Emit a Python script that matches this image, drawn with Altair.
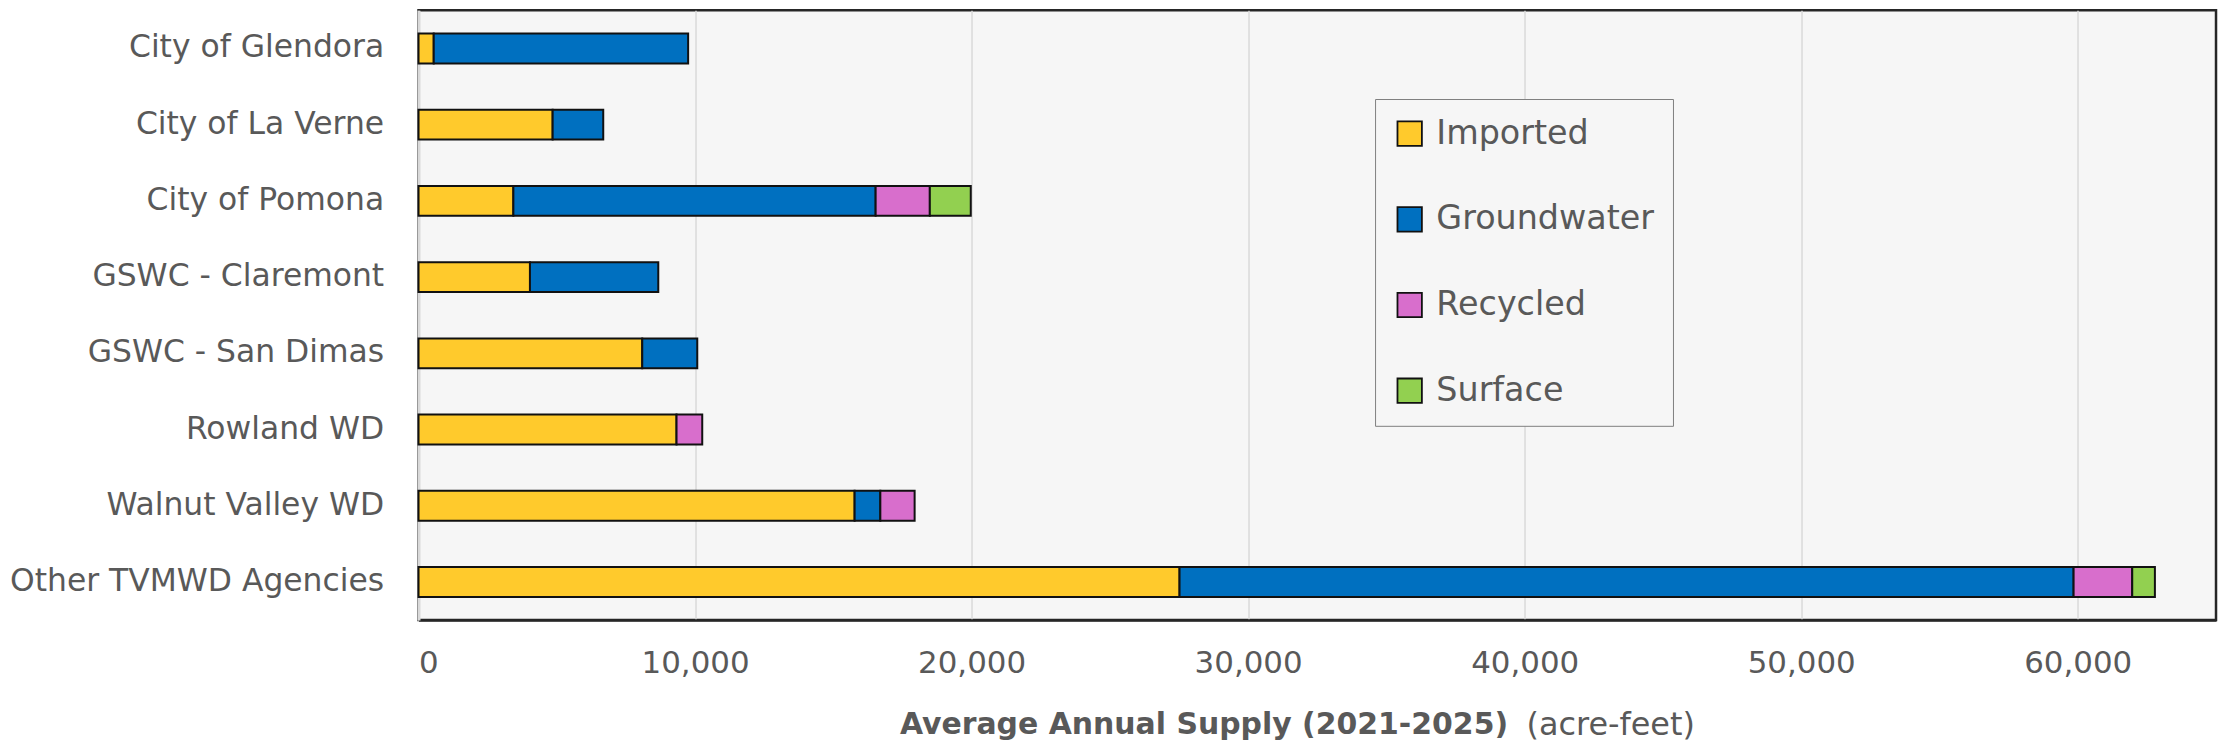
import altair as alt
import pandas as pd

agencies = ["City of Glendora", "City of La Verne", "City of Pomona", "GSWC - Claremont",
            "GSWC - San Dimas", "Rowland WD", "Walnut Valley WD", "Other TVMWD Agencies"]
sources = ["Imported", "Groundwater", "Recycled", "Surface"]
imported = [550, 4850, 3430, 4030, 8090, 9330, 15770, 27520]
groundwater = [9200, 1830, 13100, 4640, 1990, 0, 930, 32330]
recycled = [0, 0, 1960, 0, 0, 930, 1240, 2120]
surface = [0, 0, 1480, 0, 0, 0, 0, 820]
colors = ["#FFCA2C", "#0070C0", "#D86ECC", "#92D050"]
x_ticks = [0, 10000, 20000, 30000, 40000, 50000, 60000]

FONT = "DejaVu Sans"
TXT = "#595959"

rows = []
for i, src_vals in enumerate([imported, groundwater, recycled, surface]):
    for a, v in zip(agencies, src_vals):
        if v > 0:
            rows.append({"Agency": a, "Source": sources[i], "Value": v, "Idx": i})
df = pd.DataFrame(rows)

bars = alt.Chart(df).mark_bar(stroke="#111111", strokeWidth=2, size=30).encode(
    y=alt.Y("Agency:N", sort=agencies,
            axis=alt.Axis(title=None, labelFontSize=31.5, labelColor=TXT, labelFont=FONT,
                          labelPadding=35, ticks=False, tickSize=0, grid=False,
                          domainColor="#D9D9D9", domainWidth=3, labelLimit=600)),
    x=alt.X("Value:Q", stack="zero",
            scale=alt.Scale(domain=[0, 65000], nice=False),
            axis=alt.Axis(values=x_ticks, format=",d", labelFontSize=31, labelColor=TXT,
                          labelFont=FONT, labelPadding=29, ticks=False, tickSize=0,
                          domainColor="#262626", domainWidth=2.5,
                          gridColor="#D9D9D9", gridWidth=1.5,
                          title="Average Annual Supply (2021-2025)",
                          titleFontSize=30, titleFontWeight="bold", titleColor=TXT,
                          titleFont=FONT, titleAlign="right", titleAnchor="start",
                          titleBaseline="middle", titleX=1093, titleY=105)),
    color=alt.Color("Source:N", sort=sources,
                    scale=alt.Scale(domain=sources, range=colors),
                    legend=alt.Legend(title=None, orient="none", legendX=960, legendY=89,
                                      direction="vertical", fillColor="#F6F6F6",
                                      strokeColor="#808080", padding=18, rowPadding=51,
                                      symbolType="square", symbolSize=600,
                                      symbolStrokeColor="#111111", symbolStrokeWidth=1.8,
                                      labelFontSize=33.5, labelColor=TXT, labelFont=FONT,
                                      labelOffset=10, labelLimit=400)),
    order=alt.Order("Idx:Q"),
)

unit = alt.Chart(pd.DataFrame({"t": ["(acre-feet)"]})).mark_text(
    align="left", baseline="middle", fontSize=32, color=TXT, font=FONT
).encode(x=alt.value(1112), y=alt.value(717), text="t:N")

chart = alt.layer(bars, unit).properties(
    width=1804, height=612,
    autosize=alt.AutoSizeParams(type="none"),
    padding={"left": 412, "top": 1, "right": 4, "bottom": 124},
).configure(font=FONT).configure_view(
    fill="#F6F6F6", stroke="#262626", strokeWidth=2.5
)

chart.save("out.html", embed_options={"renderer": "svg", "actions": False})
